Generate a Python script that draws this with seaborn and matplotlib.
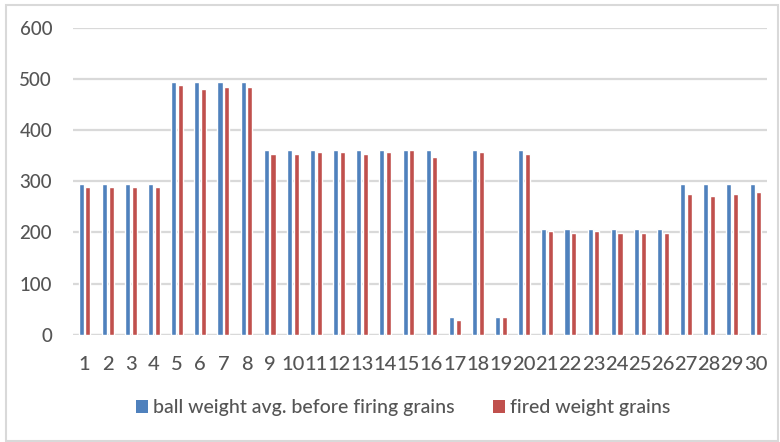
import matplotlib
matplotlib.use("Agg")
import matplotlib.pyplot as plt
from matplotlib.patches import Rectangle, Patch
import seaborn as sns
import pandas as pd

# Cartridge numbers 1..30
cartridges = [str(i) for i in range(1, 31)]

# Average ball weight before firing (grains)
before_firing = [294, 294, 294, 294, 494, 494, 494, 494,
                 362, 362, 362, 362, 362, 362, 362, 362,
                 34, 362, 34, 362,
                 207, 207, 207, 207, 207, 207,
                 294, 294, 294, 294]

# Recovered (fired) ball weight (grains)
fired = [289, 289, 289, 289, 489, 480, 484, 484,
         353, 353, 357, 357, 353, 357, 362, 348,
         29, 357, 34, 353,
         202, 198, 202, 198, 198, 198,
         275, 271, 275, 280]

series_names = ["ball weight avg. before firing grains", "fired weight grains"]
series_colors = ["#4F81BD", "#C0504D"]
y_ticks = [0, 100, 200, 300, 400, 500, 600]

df = pd.DataFrame({
    "cartridge": cartridges * 2,
    "weight": before_firing + fired,
    "series": [series_names[0]] * len(cartridges) + [series_names[1]] * len(cartridges),
})

sns.set_theme(style="white")
plt.rcParams["font.family"] = ["Lato", "DejaVu Sans"]

text_color = "#555555"
grid_color = "#D9D9D9"

fig = plt.figure(figsize=(7.8, 4.42), dpi=100)
ax = fig.add_axes([73 / 780, 107.3 / 442, (767 - 73) / 780, (334.7 - 28) / 442])

sns.barplot(data=df, x="cartridge", y="weight", hue="series",
            palette=series_colors, width=0.58, gap=0.25,
            order=cartridges, hue_order=series_names,
            saturation=1, legend=False, ax=ax, zorder=3)

ax.set_xlim(-0.5, len(cartridges) - 0.5)
ax.set_ylim(0, 600)
ax.set_yticks(y_ticks)
ax.set_xlabel("")
ax.set_ylabel("")
ax.yaxis.grid(True, color=grid_color, linewidth=1.6, zorder=0)
ax.set_axisbelow(True)
for side in ["top", "right", "left", "bottom"]:
    ax.spines[side].set_visible(False)
ax.axhline(0, color=grid_color, linewidth=1.6, zorder=2)
ax.tick_params(axis="both", length=0, labelcolor=text_color)
ax.tick_params(axis="x", pad=15, labelsize=14.5)
ax.tick_params(axis="y", pad=15, labelsize=13.5)
for lbl in ax.get_xticklabels() + ax.get_yticklabels():
    lbl.set_fontweight("medium")

handles = [Patch(facecolor=c, edgecolor="none") for c in series_colors]
fig.legend(handles, series_names, loc="center", bbox_to_anchor=(0.517, 0.077),
           ncol=2, frameon=False, labelcolor=text_color,
           prop={"size": 14, "weight": "medium"},
           handlelength=0.62, handleheight=0.7, handletextpad=0.25,
           columnspacing=2.0)

# Thin outer chart border
fig.patches.append(Rectangle((5.5 / 780, 1.5 / 442), 772 / 780, 436 / 442,
                             transform=fig.transFigure, fill=False,
                             edgecolor=grid_color, linewidth=1.5))

fig.savefig("out.png", dpi=100, facecolor="white")
